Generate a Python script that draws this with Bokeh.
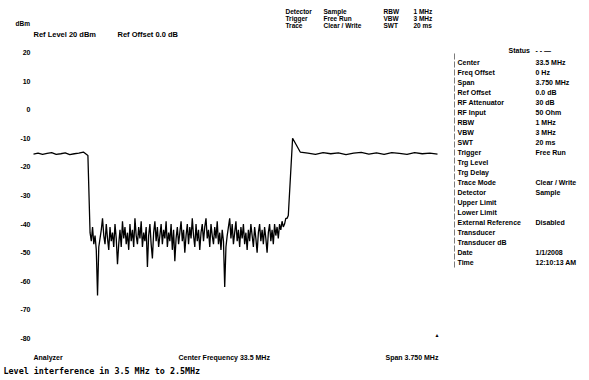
from bokeh.plotting import figure
from bokeh.models import Label, LabelSet, Range1d, ColumnDataSource, BoxAnnotation
from bokeh.embed import file_html
from bokeh.resources import INLINE
from bokeh.core.properties import value
import numpy as np

# ---------------- data ----------------
center_mhz = 33.5
span_mhz = 3.75
y_ticks = [20, 10, 0, -10, -20, -30, -40, -50, -60, -70, -80]
y_tick_labels = ["20", "10", "0", "-10", "-20", "-30", "-40", "-50", "-60", "-70", "-80"]

left_start, left_stop = 31.625, 32.13
left_level = [-15.5, -15.2, -15.6, -15.3, -15.0, -15.6, -15.4, -15.1, -15.7, -15.4,
              -15.2, -14.8, -16.0]

noise_start, noise_stop = 32.15, 33.99
noise_level = [-43, -46, -41, -47, -44, -49, -65, -48, -45, -42,
               -38, -44, -47, -40, -45, -49, -41, -46, -43, -48,
               -40, -45, -54, -47, -42, -48, -39, -45, -41, -47,
               -43, -49, -40, -46, -42, -48, -38, -44, -47, -41,
               -45, -39, -48, -43, -46, -41, -55, -44, -40, -47,
               -52, -43, -39, -46, -41, -48, -44, -40, -47, -42,
               -45, -39, -48, -43, -46, -40, -49, -42, -53, -45,
               -41, -47, -43, -39, -46, -42, -50, -44, -40, -47,
               -41, -45, -38, -44, -48, -40, -46, -42, -49, -43,
               -40, -46, -41, -38, -45, -42, -48, -40, -44, -47,
               -41, -45, -39, -47, -43, -49, -42, -46, -62, -48,
               -44, -41, -38, -45, -40, -47, -43, -39, -46, -42,
               -48, -41, -45, -40, -47, -43, -49, -42, -46, -40,
               -44, -48, -41, -45, -50, -43, -40, -46, -42, -47,
               -41, -45, -50, -43, -40, -46, -42, -47, -40, -44,
               -41, -45, -40, -42, -39, -41, -40, -38, -38, -37]

right_start, right_stop = 34.03, 35.375
right_level = [-10.0, -14.8, -15.2, -15.6, -15.0, -15.4, -15.1, -15.7, -15.2, -14.9,
               -15.5, -15.1, -15.6, -15.0, -15.3, -15.6, -15.0, -15.4, -15.2, -15.5]

hdr_names = ["Detector", "Trigger", "Trace"]
hdr_values = ["Sample", "Free Run", "Clear / Write"]
hdr_bw_names = ["RBW", "VBW", "SWT"]
hdr_bw_values = ["1 MHz", "3 MHz", "20 ms"]

status_names = ["Center", "Freq Offset", "Span", "Ref Offset", "RF Attenuator", "RF Input",
                "RBW", "VBW", "SWT", "Trigger", "Trg Level", "Trg Delay", "Trace Mode",
                "Detector", "Upper Limit", "Lower Limit", "External Reference",
                "Transducer", "Transducer dB", "Date", "Time"]
status_values = ["33.5 MHz", "0 Hz", "3.750 MHz", "0.0 dB", "30 dB", "50 Ohm",
                 "1 MHz", "3 MHz", "20 ms", "Free Run", "", "", "Clear / Write",
                 "Sample", "", "", "Disabled", "", "", "1/1/2008", "12:10:13 AM"]

freq = np.concatenate([
    np.linspace(left_start, left_stop, len(left_level)),
    np.linspace(noise_start, noise_stop, len(noise_level)),
    np.linspace(right_start, right_stop, len(right_level)),
])
level = left_level + noise_level + right_level

FONT = "Liberation Sans"

# ---------------- layout geometry (page pixels) ----------------
W, H = 580, 376                 # canvas, rendered at page (0, 0)
GX0, GX1 = 33, 437              # graticule left/right
GY0, GY1 = 52, 338              # graticule top/bottom
x0 = center_mhz - span_mhz / 2
x1 = center_mhz + span_mhz / 2
mhz_per_px = (x1 - x0) / (GX1 - GX0)
db_per_px = (y_ticks[0] - y_ticks[-1]) / (GY1 - GY0)

p = figure(width=W, height=H, output_backend="svg", toolbar_location=None,
           x_range=Range1d(x0 - GX0 * mhz_per_px, x1 + (W - GX1) * mhz_per_px),
           y_range=Range1d(y_ticks[-1] - (H - GY1) * db_per_px,
                           y_ticks[0] + GY0 * db_per_px),
           min_border=0)
p.outline_line_color = None
p.grid.visible = False
p.axis.visible = False

p.line(x=freq, y=level, line_color="black", line_width=1.3)

# y tick labels through the y scale
for t, lab in zip(y_ticks, y_tick_labels):
    p.add_layout(Label(x=x0, y=t, text=lab, x_offset=-3, text_align="right",
                       text_baseline="middle", text_font=FONT, text_font_size="7px",
                       text_font_style="bold", text_color="black"))


def sx(px):
    return px


def sy(py):
    return H - py


def add_text(px, py, text, size="7px", font=FONT):
    p.add_layout(Label(x=sx(px), y=sy(py), x_units="screen", y_units="screen",
                       text=text, text_font=font, text_font_size=size,
                       text_font_style="bold", text_baseline="middle",
                       text_color="black"))


add_text(15, 23, "dBm", size="6.5px")
add_text(33, 34, "Ref Level  20 dBm", size="7.5px")
add_text(117, 34, "Ref Offset  0.0 dB", size="7.5px")
for i in range(3):
    yy = 11 + 7 * i
    add_text(285, yy, hdr_names[i], size="6.5px")
    add_text(323, yy, hdr_values[i], size="6.5px")
    add_text(383, yy, hdr_bw_names[i], size="6.5px")
    add_text(413, yy, hdr_bw_values[i], size="6.5px")

add_text(33, 357, "Analyzer")
add_text(178, 357, "Center Frequency 33.5 MHz")
add_text(385, 357, "Span 3.750 MHz")
add_text(434, 334, "\u25b2", size="5px")
add_text(3, 370, "Level interference in 3.5 MHz to 2.5MHz", size="8.4px",
         font="DejaVu Sans Mono")

# ---------------- status panel ----------------
p.add_layout(BoxAnnotation(left=sx(454), right=sx(454), top=sy(53), bottom=sy(268),
                           left_units="screen", right_units="screen",
                           top_units="screen", bottom_units="screen",
                           fill_alpha=0, line_color="black", line_width=1,
                           line_dash="6 2"))
add_text(508, 50, "Status")
add_text(535, 50, "- - \u2014")
rows_py = [62 + 10 * i for i in range(len(status_names))]
src = ColumnDataSource(dict(xn=[sx(457)] * len(status_names),
                            xv=[sx(535)] * len(status_names),
                            y=[sy(v) for v in rows_py],
                            n=status_names, v=status_values))
for col, txt in (("xn", "n"), ("xv", "v")):
    p.add_layout(LabelSet(x=col, y="y", text=txt, source=src,
                          x_units="screen", y_units="screen",
                          text_font=value(FONT), text_font_size=value("7px"),
                          text_font_style="bold", text_baseline="middle",
                          text_color="black"))

open("out.html", "w").write(file_html(p, INLINE))
